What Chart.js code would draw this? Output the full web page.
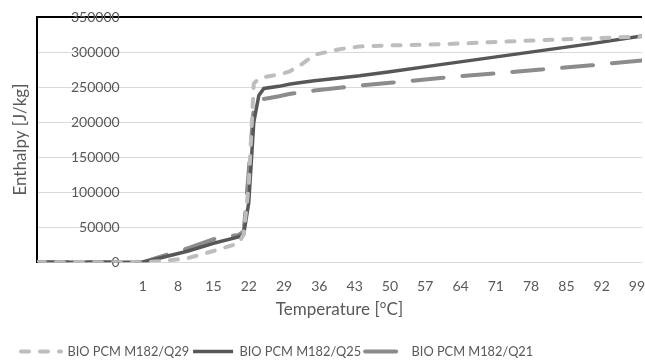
<!DOCTYPE html>
<html>
<head>
<meta charset="utf-8">
<script src="https://cdn.jsdelivr.net/npm/chart.js@4/dist/chart.umd.min.js"></script>
<style>
  html, body { margin: 0; padding: 0; background: #fff; }
</style>
</head>
<body>
<canvas id="enthalpyChart" width="645" height="360"></canvas>
<script>
// temperatures in °C, shared by all three curves
const temperatures = [-20, 1, 5, 10, 15, 20, 21, 22, 23, 24, 25, 28, 30, 32, 35, 40, 44, 50, 60, 70, 80, 90, 100];

// enthalpy in J/kg
const q29Enthalpy = [0, 0, 1500, 6000, 16000, 27000, 40000, 110000, 255000, 262000, 264000, 268000, 272000, 280000, 296000, 304000, 308000, 309500, 311000, 314000, 317000, 319500, 322000];
const q25Enthalpy = [0, 0, 7000, 16000, 27000, 36000, 40000, 85000, 200000, 238000, 248000, 251000, 254000, 256000, 259000, 263000, 266000, 272000, 282000, 292000, 302000, 312000, 323000];
const q21Enthalpy = [0, 0, 9000, 20000, 33000, 39000, 44000, 130000, 222000, 230000, 233000, 237000, 240000, 242000, 245000, 249000, 252000, 256000, 263000, 269000, 275000, 281000, 288000];

const seriesNames = ['BIO PCM M182/Q29', 'BIO PCM M182/Q25', 'BIO PCM M182/Q21'];
const xTickValues = [1, 8, 15, 22, 29, 36, 43, 50, 57, 64, 71, 78, 85, 92, 99];

const textGray = '#595959';
const fontName = 'Lato';

function toPoints(values) {
  return temperatures.map((t, i) => ({ x: t, y: values[i] }));
}

const ctx = document.getElementById('enthalpyChart').getContext('2d');
new Chart(ctx, {
  type: 'line',
  data: {
    datasets: [
      {
        label: seriesNames[0],
        data: toPoints(q29Enthalpy),
        borderColor: '#bdbdbd',
        backgroundColor: '#bdbdbd',
        borderWidth: 4,
        borderDash: [8, 11],
        borderCapStyle: 'round'
      },
      {
        label: seriesNames[1],
        data: toPoints(q25Enthalpy),
        borderColor: '#575757',
        backgroundColor: '#575757',
        borderWidth: 3.5
      },
      {
        label: seriesNames[2],
        data: toPoints(q21Enthalpy),
        borderColor: '#8c8c8c',
        backgroundColor: '#8c8c8c',
        borderWidth: 4,
        borderDash: [31, 19],
        borderCapStyle: 'round'
      }
    ]
  },
  options: {
    responsive: false,
    animation: false,
    elements: {
      point: { radius: 0 },
      line: { tension: 0 }
    },
    layout: {
      padding: { left: 17, right: 3, top: 17, bottom: -8 }
    },
    scales: {
      x: {
        type: 'linear',
        min: -20,
        max: 100,
        afterBuildTicks: scale => {
          scale.ticks = xTickValues.map(v => ({ value: v }));
        },
        afterFit: scale => {
          scale.paddingLeft = 0;
          scale.paddingRight = 0;
          scale.height = 79;
        },
        grid: { display: false },
        border: { display: false },
        ticks: {
          color: textGray,
          font: { family: fontName, size: 14 },
          padding: 8,
          maxRotation: 0,
          autoSkip: false
        },
        title: {
          display: true,
          text: 'Temperature [°C]',
          color: textGray,
          font: { family: fontName, size: 17 },
          padding: { top: 7, bottom: 21 }
        }
      },
      y: {
        min: 0,
        max: 350000,
        // labels sit inside the plot, right-aligned near x = 1
        afterFit: scale => {
          scale.width = 20;
          scale.paddingTop = 0;
          scale.paddingBottom = 0;
        },
        ticks: {
          stepSize: 50000,
          mirror: true,
          crossAlign: 'far',
          padding: 34,
          color: textGray,
          font: { family: fontName, size: 14 },
          callback: v => String(v)
        },
        grid: {
          drawTicks: false,
          color: c => (c.tick && c.tick.value === 350000 ? '#000' : '#d9d9d9'),
          lineWidth: c => (c.tick && c.tick.value === 350000 ? 2 : 1)
        },
        border: { color: '#000', width: 2 },
        title: {
          display: true,
          text: 'Enthalpy [J/kg]',
          color: textGray,
          font: { family: fontName, size: 17 },
          padding: { top: -7, bottom: 0 }
        }
      }
    },
    plugins: {
      tooltip: { enabled: false },
      legend: {
        position: 'bottom',
        align: 'start',
        labels: {
          usePointStyle: true,
          pointStyleWidth: 40,
          padding: 4,
          color: textGray,
          font: { family: fontName, size: 12.8 },
          generateLabels: chart => chart.data.datasets.map((ds, i) => ({
            text: ds.label,
            fillStyle: ds.borderColor,
            strokeStyle: ds.borderColor,
            lineWidth: ds.borderWidth,
            lineDash: ds.borderDash || [],
            lineCap: ds.borderCapStyle || 'butt',
            pointStyle: 'line',
            fontColor: textGray,
            hidden: false,
            datasetIndex: i
          }))
        }
      }
    }
  }
});
</script>
</body>
</html>
